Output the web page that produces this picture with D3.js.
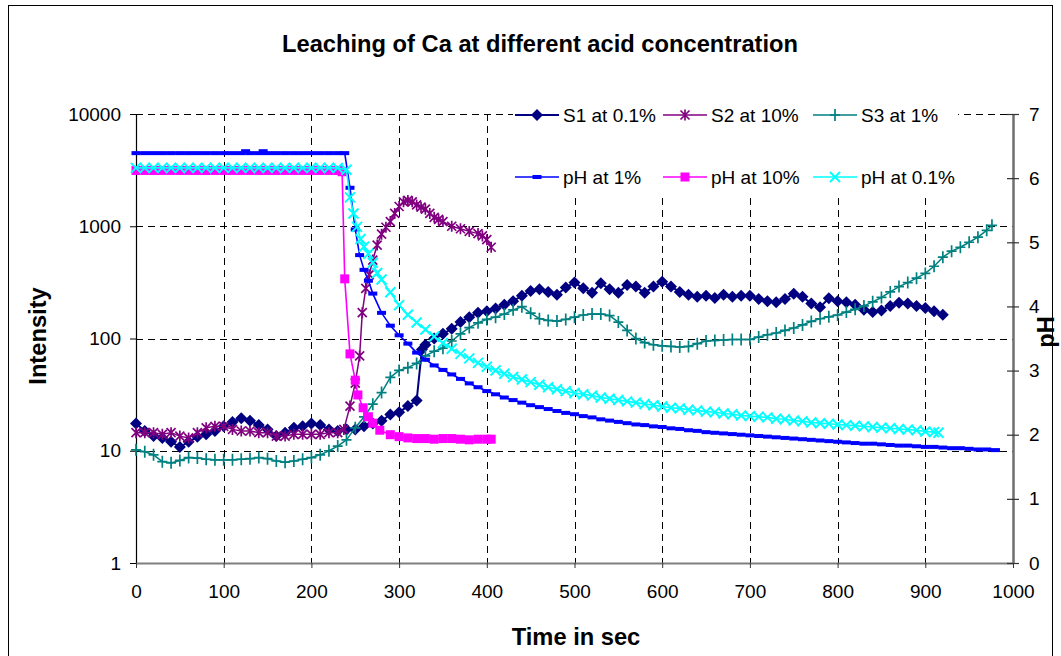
<!DOCTYPE html>
<html><head><meta charset="utf-8">
<script src="https://cdn.jsdelivr.net/npm/d3@7"></script>
<style>
body{margin:0;background:#fff}
svg{display:block}
text{font-family:Arial,"Liberation Sans",sans-serif;fill:#000}
</style>
</head><body>
<svg id="chart" width="1061" height="656"></svg>
<script>
// ---------- DATA ----------
const timeTicks = [0,100,200,300,400,500,600,700,800,900,1000];
const intensityTicks = [1,10,100,1000,10000];
const phTicks = [0,1,2,3,4,5,6,7];

const seriesNames = ["S1 at 0.1%","S2 at 10%","S3 at 1%","pH at 1%","pH at 10%","pH at 0.1%"];

// [time (s), intensity]
const S1 = [[0,17.5],[10,15],[20,13.5],[30,13],[40,12],[50,10.8],[60,12],[70,13.3],[80,14],[90,15],[100,16.5],[110,18],[120,19.5],[130,18.5],[140,17],[150,15.5],[160,13.5],[170,14.5],[180,16],[190,16.5],[200,17.5],[210,17],[220,15.5],[230,15],[240,15.5],[250,15.5],[260,16.5],[270,17.5],[280,18.5],[290,21],[300,22],[310,25],[320,28],[326,80],[330,88],[340,100],[350,110],[360,122],[370,140],[380,155],[390,170],[400,175],[410,185],[420,200],[430,215],[440,240],[450,265],[460,275],[470,260],[480,245],[490,285],[500,315],[510,280],[520,255],[530,310],[540,275],[550,255],[560,300],[570,290],[580,255],[590,290],[600,320],[610,290],[620,260],[630,245],[640,235],[650,240],[660,230],[670,245],[680,235],[690,240],[700,240],[710,225],[720,215],[730,210],[740,225],[750,250],[760,235],[770,205],[780,190],[790,228],[800,215],[810,210],[820,200],[830,180],[840,172],[850,178],[860,195],[870,208],[880,205],[890,195],[900,187],[910,175],[920,163]];

const S2 = [[0,14.5],[10,14.5],[20,14.5],[30,14],[40,14.5],[50,13.5],[60,13],[70,14.5],[80,16],[90,16.5],[100,16.5],[110,15.5],[120,15],[130,15],[140,14.5],[150,14.5],[160,13.5],[170,13.5],[180,14],[190,14],[200,14],[210,14],[220,14.5],[230,14.5],[237,15.5],[244,25],[250,40],[255,70],[258,170],[262,280],[266,370],[270,500],[275,680],[280,850],[285,980],[290,1100],[295,1300],[300,1500],[305,1650],[310,1700],[315,1650],[320,1550],[325,1480],[330,1420],[335,1300],[340,1200],[345,1150],[350,1100],[360,1000],[370,950],[380,900],[390,860],[395,820],[400,760],[405,650]];

const S3 = [[0,10.2],[10,9.8],[20,9.2],[30,8],[40,7.8],[50,8.2],[60,8.7],[70,8.6],[80,8.4],[90,8.3],[100,8.3],[110,8.3],[120,8.4],[130,8.5],[140,8.7],[150,8.5],[160,8.1],[170,7.9],[180,8.1],[190,8.4],[200,8.7],[210,9.2],[220,10],[230,11],[240,12.5],[250,16],[260,20],[270,26],[280,33],[290,45],[300,52],[310,55],[320,60],[330,70],[340,77],[350,82],[360,95],[370,110],[380,125],[390,138],[400,148],[410,155],[420,165],[430,180],[440,192],[450,168],[460,150],[470,145],[480,143],[490,148],[500,155],[510,162],[520,165],[530,165],[540,160],[550,140],[560,118],[570,100],[580,92],[590,88],[600,86],[610,85],[620,84],[630,85],[640,90],[650,95],[660,96],[670,97],[680,98],[690,98],[700,98],[710,103],[720,108],[730,112],[740,118],[750,124],[760,132],[770,142],[780,150],[790,156],[800,162],[810,172],[820,182],[830,195],[840,212],[850,232],[860,260],[870,290],[880,315],[890,345],[900,380],[910,440],[920,530],[930,600],[940,650],[950,720],[960,800],[970,920],[976,1020]];

// [time (s), pH]
const PH1 = [[0,6.39],[10,6.39],[20,6.39],[30,6.39],[40,6.39],[50,6.39],[60,6.39],[70,6.39],[80,6.39],[90,6.39],[100,6.39],[110,6.39],[120,6.39],[125,6.42],[130,6.39],[140,6.39],[145,6.42],[150,6.39],[160,6.39],[170,6.39],[180,6.39],[190,6.39],[200,6.39],[210,6.39],[220,6.39],[230,6.39],[238,6.39],[244,5.85],[250,5.2],[255,4.8],[260,4.57],[265,4.4],[270,4.2],[280,3.9],[290,3.7],[300,3.55],[310,3.42],[320,3.28],[330,3.17],[340,3.08],[350,3.01],[360,2.94],[370,2.87],[380,2.8],[390,2.74],[400,2.68],[410,2.63],[420,2.58],[430,2.54],[440,2.5],[450,2.46],[460,2.43],[470,2.4],[480,2.37],[490,2.34],[500,2.32],[510,2.29],[520,2.27],[530,2.24],[540,2.22],[550,2.2],[560,2.18],[570,2.16],[580,2.15],[590,2.13],[600,2.12],[610,2.1],[620,2.09],[630,2.07],[640,2.06],[650,2.04],[660,2.03],[670,2.02],[680,2.01],[690,2.0],[700,1.99],[710,1.98],[720,1.97],[730,1.96],[740,1.95],[750,1.94],[760,1.93],[770,1.92],[780,1.91],[790,1.9],[800,1.89],[810,1.88],[820,1.87],[830,1.86],[840,1.86],[850,1.85],[860,1.84],[870,1.83],[880,1.83],[890,1.82],[900,1.81],[910,1.81],[920,1.8],[930,1.79],[940,1.79],[950,1.78],[960,1.77],[970,1.77],[980,1.76]];

const PH10 = [[0,6.12],[10,6.12],[20,6.12],[30,6.12],[40,6.12],[50,6.12],[60,6.12],[70,6.12],[80,6.12],[90,6.12],[100,6.12],[110,6.12],[120,6.12],[130,6.12],[140,6.12],[150,6.12],[160,6.12],[170,6.12],[180,6.12],[190,6.12],[200,6.12],[210,6.12],[220,6.12],[230,6.12],[235,6.1],[238,4.43],[244,3.26],[250,2.85],[253,2.62],[259,2.42],[265,2.28],[270,2.18],[278,2.07],[290,2.0],[300,1.97],[310,1.95],[320,1.94],[330,1.94],[340,1.93],[350,1.94],[360,1.94],[370,1.93],[380,1.92],[390,1.93],[400,1.93],[405,1.93]];

const PH01 = [[0,6.16],[10,6.16],[20,6.16],[30,6.16],[40,6.16],[50,6.16],[60,6.16],[70,6.16],[80,6.16],[90,6.16],[100,6.16],[110,6.16],[120,6.16],[130,6.16],[140,6.16],[150,6.16],[160,6.16],[170,6.16],[180,6.16],[190,6.16],[200,6.16],[210,6.16],[220,6.16],[230,6.16],[240,6.13],[244,5.7],[248,5.45],[252,5.24],[256,5.05],[260,4.93],[265,4.82],[270,4.68],[275,4.52],[280,4.42],[290,4.22],[300,4.02],[310,3.87],[320,3.75],[330,3.64],[340,3.53],[350,3.43],[360,3.34],[370,3.26],[380,3.19],[390,3.12],[400,3.06],[410,3.0],[420,2.95],[430,2.9],[440,2.86],[450,2.82],[460,2.78],[470,2.74],[480,2.71],[490,2.68],[500,2.65],[510,2.63],[520,2.61],[530,2.58],[540,2.56],[550,2.54],[560,2.52],[570,2.5],[580,2.48],[590,2.46],[600,2.44],[610,2.42],[620,2.41],[630,2.39],[640,2.38],[650,2.36],[660,2.35],[670,2.33],[680,2.32],[690,2.3],[700,2.29],[710,2.28],[720,2.27],[730,2.25],[740,2.24],[750,2.22],[760,2.21],[770,2.19],[780,2.18],[790,2.17],[800,2.16],[810,2.15],[820,2.14],[830,2.13],[840,2.12],[850,2.11],[860,2.1],[870,2.09],[880,2.08],[890,2.07],[900,2.05],[910,2.04],[915,2.03]];

// ---------- CHART ----------
const svg = d3.select("#chart");
const W = 1061, H = 656;
const plot = {left:136, right:1013, top:114, bottom:563};

svg.append("rect").attr("x",0).attr("y",0).attr("width",W).attr("height",H).attr("fill","#fff");
svg.append("rect").attr("x",8.5).attr("y",5.5).attr("width",1044).attr("height",670)
  .attr("fill","none").attr("stroke","#000").attr("stroke-width",1);

const x = d3.scaleLinear().domain([0,1000]).range([plot.left, plot.right]);
const yL = d3.scaleLog().domain([1,10000]).range([plot.bottom, plot.top]);
const yR = d3.scaleLinear().domain([0,7]).range([plot.bottom, plot.top]);

// gridlines
const grid = svg.append("g").attr("stroke","#000").attr("stroke-width",1).attr("stroke-dasharray","7,5");
grid.selectAll(".hg").data(intensityTicks.filter(d=>d>1)).join("line")
  .attr("x1",plot.left).attr("x2",plot.right)
  .attr("y1",d=>Math.round(yL(d))+0.5).attr("y2",d=>Math.round(yL(d))+0.5);
grid.selectAll(".vg").data(timeTicks.filter(d=>d>0)).join("line")
  .attr("y1",plot.top).attr("y2",plot.bottom)
  .attr("x1",d=>Math.round(x(d))+0.5).attr("x2",d=>Math.round(x(d))+0.5);

// axes
const axL = svg.append("g").attr("transform",`translate(${plot.left},0)`)
  .call(d3.axisLeft(yL).tickValues(intensityTicks).tickFormat(d3.format("d")).tickSize(6).tickSizeOuter(0).tickPadding(9));
const axB = svg.append("g").attr("transform",`translate(0,${plot.bottom})`)
  .call(d3.axisBottom(x).tickValues(timeTicks).tickFormat(d3.format("d")).tickSize(5).tickSizeOuter(0).tickPadding(17));
const axR = svg.append("g").attr("transform",`translate(${plot.right},0)`)
  .call(d3.axisRight(yR).tickValues(phTicks).tickFormat(d3.format("d")).tickSize(6).tickSizeOuter(0).tickPadding(10));

[axL,axB,axR].forEach(g=>{
  g.selectAll("text").attr("font-size",19).attr("font-family",'Arial,"Liberation Sans",sans-serif').attr("fill","#000");
  g.attr("font-size",null).attr("font-family",null);
});
axL.select(".domain").attr("stroke","#000").attr("stroke-width",1.2);
axL.selectAll(".tick line").attr("stroke","#000");
axB.select(".domain").attr("stroke","#7f7f7f").attr("stroke-width",2);
axB.selectAll(".tick line").attr("stroke","#333");
axR.select(".domain").attr("stroke","#6f6f6f").attr("stroke-width",2.5);
axR.selectAll(".tick line").attr("x1",-6).attr("x2",6).attr("stroke","#333").attr("stroke-width",1.2);

// series definitions
const series = [
  {name:seriesNames[0], data:S1,  y:yL, color:"#000080", marker:"diamond",  lw:2},
  {name:seriesNames[1], data:S2,  y:yL, color:"#800080", marker:"asterisk", lw:1.5},
  {name:seriesNames[2], data:S3,  y:yL, color:"#008080", marker:"plus",     lw:1.5},
  {name:seriesNames[3], data:PH1, y:yR, color:"#0000FF", marker:"dash",     lw:1.6},
  {name:seriesNames[4], data:PH10,y:yR, color:"#FF00FF", marker:"square",   lw:1.6},
  {name:seriesNames[5], data:PH01,y:yR, color:"#00FFFF", marker:"cross",    lw:1.6}
];

function drawMarker(g, type, color){
  if(type==="diamond"){
    g.append("path").attr("d","M0,-6L6,0L0,6L-6,0Z").attr("fill",color);
  } else if(type==="asterisk"){
    g.append("path").attr("d","M-4.5,-4.5L4.5,4.5M-4.5,4.5L4.5,-4.5M0,-5.5L0,5.5").attr("stroke",color).attr("stroke-width",1.7).attr("fill","none");
  } else if(type==="plus"){
    g.append("path").attr("d","M-5,0L5,0M0,-6L0,6").attr("stroke",color).attr("stroke-width",1.7).attr("fill","none");
  } else if(type==="dash"){
    g.append("rect").attr("x",-4.5).attr("y",-2).attr("width",9).attr("height",4).attr("fill",color);
  } else if(type==="square"){
    g.append("rect").attr("x",-4.5).attr("y",-4.5).attr("width",9).attr("height",9).attr("fill",color);
  } else if(type==="cross"){
    g.append("path").attr("d","M-5,-5L5,5M-5,5L5,-5").attr("stroke",color).attr("stroke-width",2).attr("fill","none");
  }
}

svg.append("defs").append("clipPath").attr("id","pc").append("rect")
  .attr("x",plot.left-8).attr("y",plot.top-8).attr("width",plot.right-plot.left+16).attr("height",plot.bottom-plot.top+8);

const layer = svg.append("g").attr("clip-path","url(#pc)");
series.forEach(s=>{
  const line = d3.line().x(d=>x(d[0])).y(d=>s.y(d[1]));
  const g = layer.append("g");
  g.append("path").datum(s.data).attr("d",line).attr("fill","none")
    .attr("stroke",s.color).attr("stroke-width",s.lw).attr("stroke-linejoin","round");
  g.selectAll(".m").data(s.data).join("g")
    .attr("transform",d=>`translate(${x(d[0])},${s.y(d[1])})`)
    .each(function(){ drawMarker(d3.select(this), s.marker, s.color); });
});

// legend
const legend = svg.append("g");
legend.append("rect").attr("x",513).attr("y",96).attr("width",445).attr("height",100).attr("fill","#fff");
const legCols = [515,663,813], legRows = [115,177];
series.forEach((s,i)=>{
  const lx = legCols[i%3], ly = legRows[Math.floor(i/3)];
  const g = legend.append("g");
  g.append("line").attr("x1",lx).attr("x2",lx+44).attr("y1",ly).attr("y2",ly)
    .attr("stroke",s.color).attr("stroke-width",s.lw);
  const m = g.append("g").attr("transform",`translate(${lx+22},${ly})`);
  drawMarker(m, s.marker, s.color);
  g.append("text").attr("x",lx+48).attr("y",ly+7).attr("font-size",19).text(s.name);
});

// titles
svg.append("text").attr("x",540).attr("y",52).attr("text-anchor","middle")
  .attr("font-size",23.7).attr("font-weight","bold").text("Leaching of Ca at different acid concentration");
svg.append("text").attr("x",576).attr("y",645).attr("text-anchor","middle")
  .attr("font-size",23.7).attr("font-weight","bold").text("Time in sec");
svg.append("text").attr("transform","translate(46,336) rotate(-90)").attr("text-anchor","middle")
  .attr("font-size",23.7).attr("font-weight","bold").text("Intensity");
svg.append("text").attr("transform","translate(1054,332) rotate(-90)").attr("text-anchor","middle")
  .attr("font-size",23.7).attr("font-weight","bold").text("pH");
</script>
</body></html>
